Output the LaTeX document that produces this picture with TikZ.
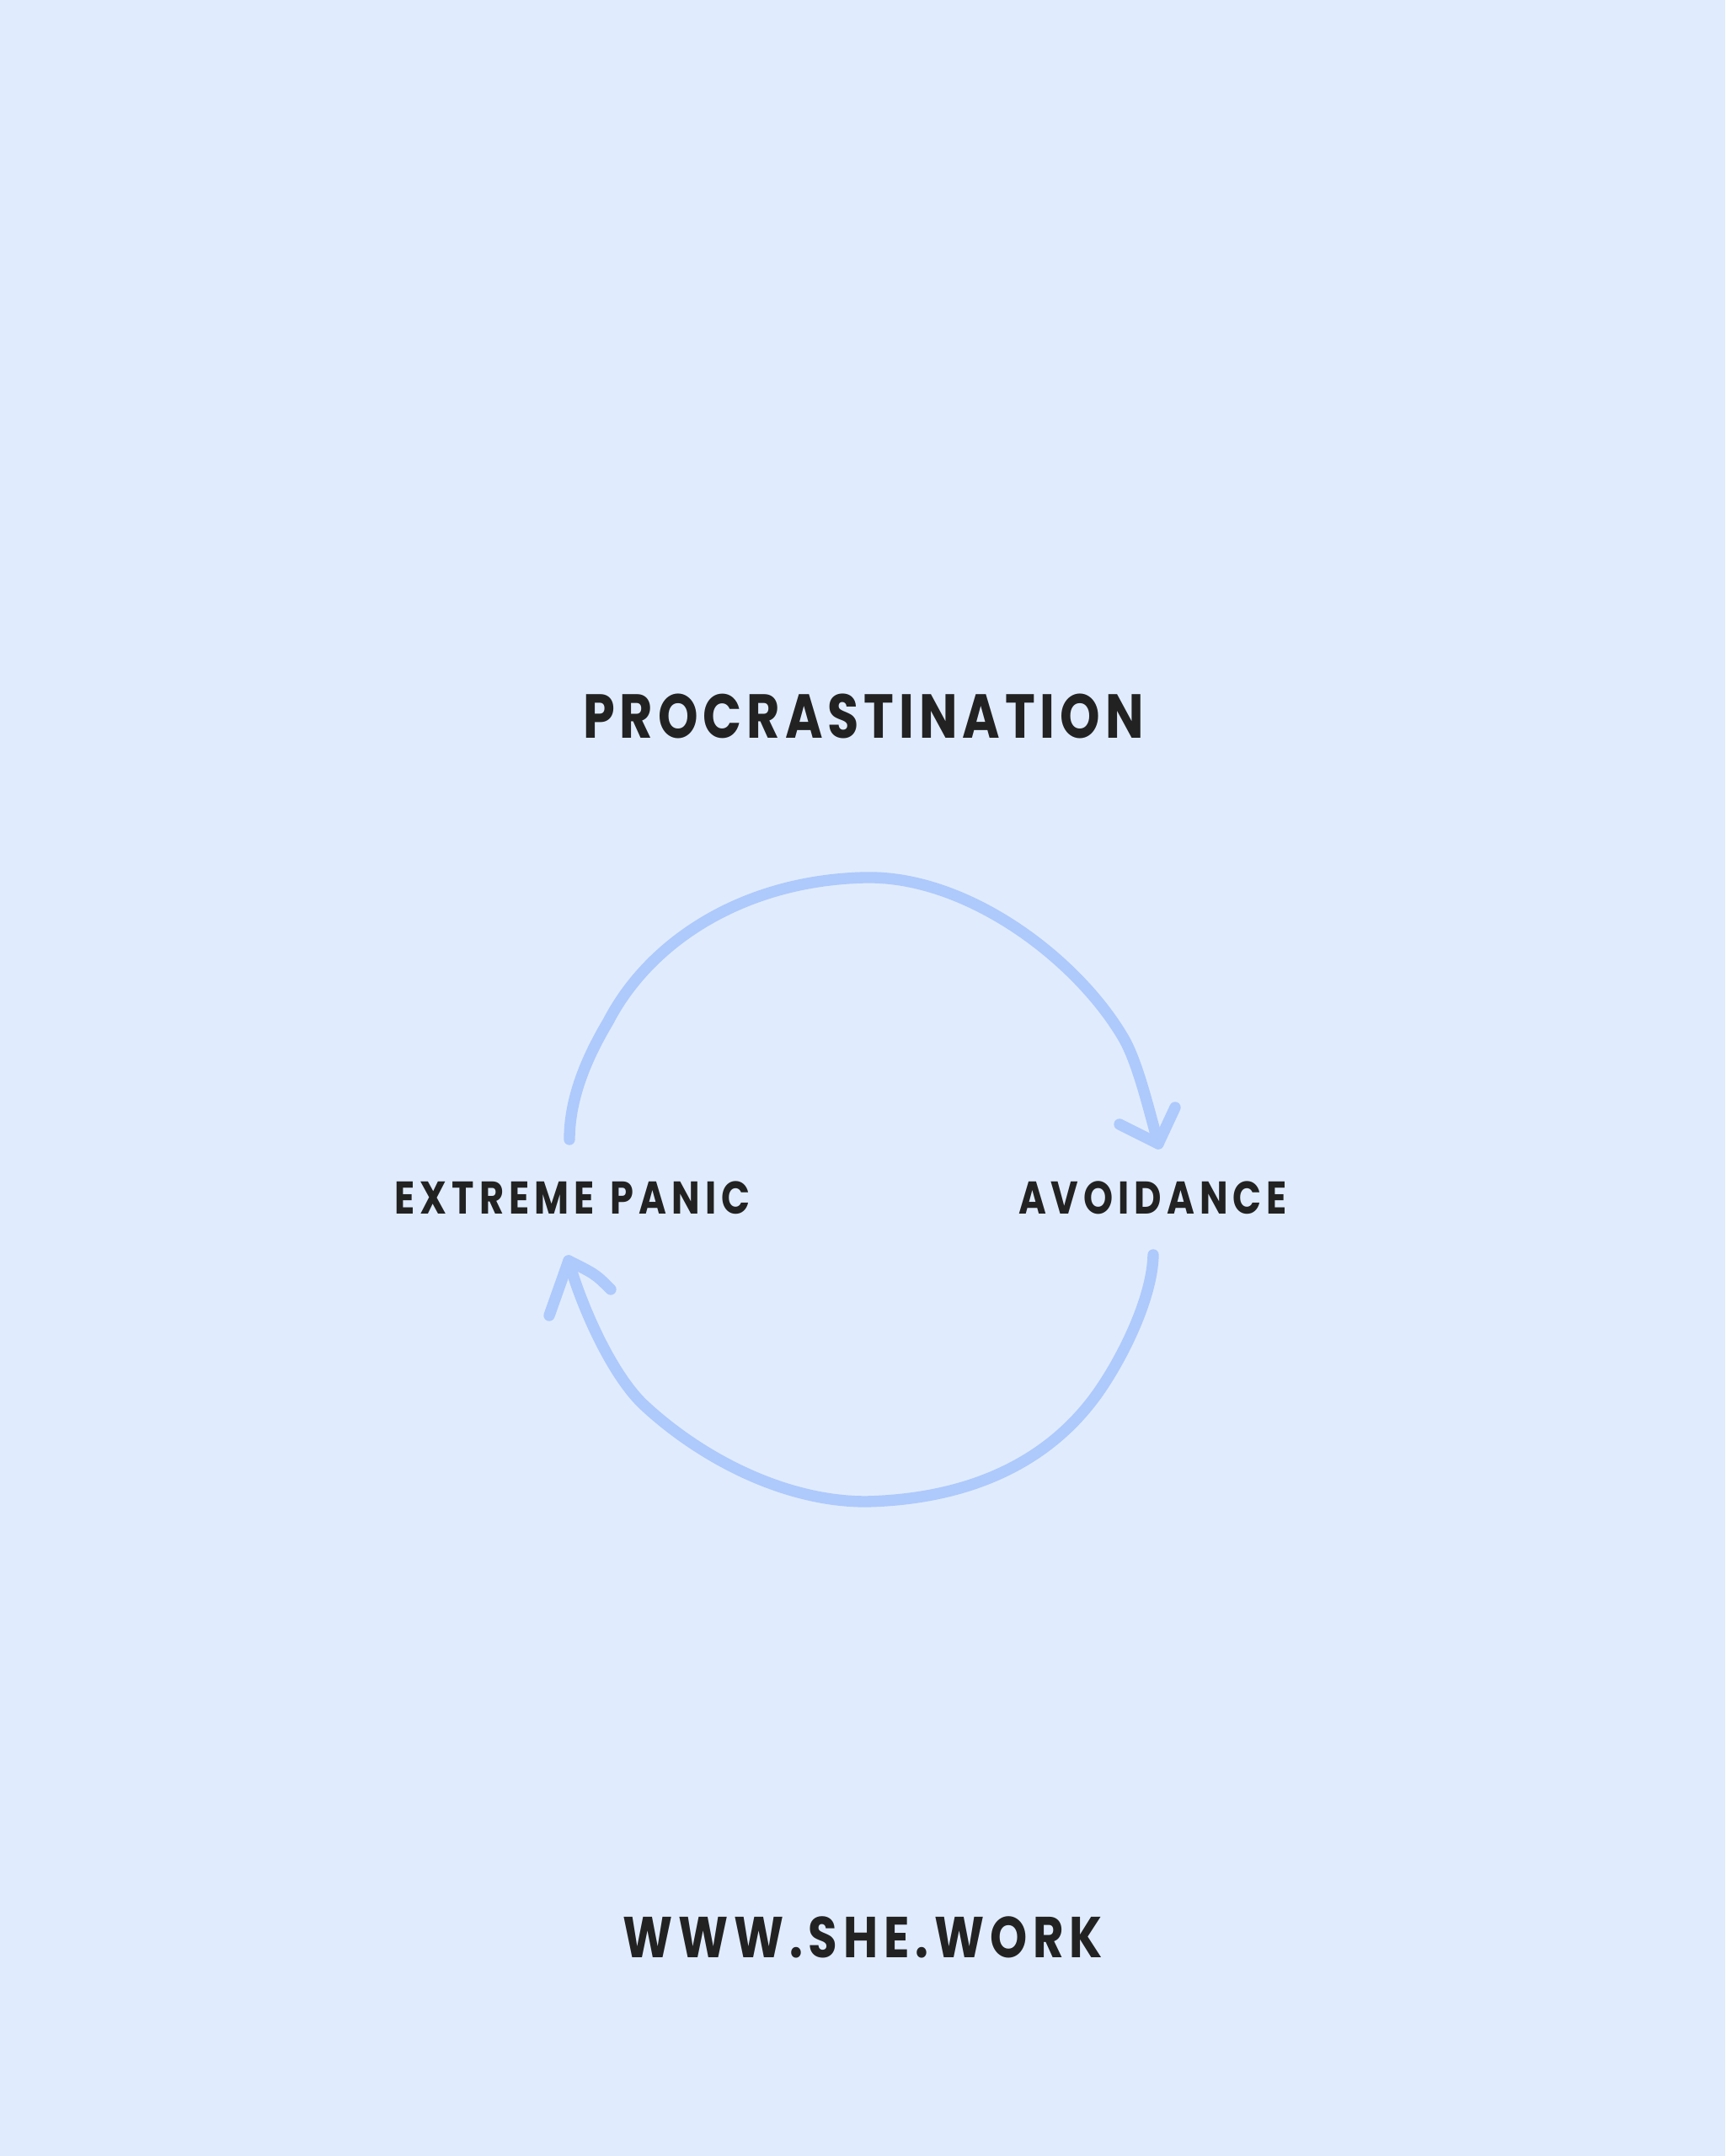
\documentclass[tikz,border=0pt]{standalone}
\usepackage{fontspec}
\setmainfont{Poppins}
\definecolor{bgc}{HTML}{E0ECFD}
\definecolor{arc}{HTML}{AEC9FC}
\definecolor{ink}{HTML}{222222}
\begin{document}
\begin{tikzpicture}[
  lbl/.style={text=ink, inner sep=0pt, anchor=base},
  arrowline/.style={draw=arc, line width=3.8pt, line cap=round, line join=round}
]
\fill[bgc] (0,0) rectangle (20.48,25.6);
\useasboundingbox (0,0) rectangle (20.48,25.6);

\node[lbl, font=\fontsize{21}{24}\selectfont\bfseries\addfontfeature{FakeStretch=0.82,LetterSpace=8}] (title) at (10.25,16.83) {PROCRASTINATION};
\node[lbl, font=\fontsize{15.5}{18}\selectfont\bfseries\addfontfeature{FakeStretch=0.82,LetterSpace=11}] (panic) at (6.795,11.18) {EXTREME\hspace{0.35em}PANIC};
\node[lbl, font=\fontsize{15.5}{18}\selectfont\bfseries\addfontfeature{FakeStretch=0.82,LetterSpace=11}] (avoid) at (13.685,11.18) {AVOIDANCE};
\node[lbl, font=\fontsize{19.5}{22}\selectfont\bfseries\addfontfeature{FakeStretch=0.82,LetterSpace=10}] (web) at (10.24,2.35) {WWW.SHE.WORK};

% top arrow: panic -> avoidance
\coordinate (t0) at (6.76,12.07);
\coordinate (t1) at (13.75,12.02);
\draw[arrowline] (t0) .. controls (6.76,12.60) and (7.00,13.10) .. (7.22,13.47)
  .. controls (7.70,14.40) and (8.80,15.15) .. (10.28,15.18)
  .. controls (11.50,15.20) and (12.80,14.20) .. (13.34,13.27)
  .. controls (13.50,12.99) and (13.62,12.50) .. (t1);
\draw[arrowline] (13.29,12.25) -- (t1) -- (13.95,12.45);

% bottom arrow: avoidance -> panic
\coordinate (b0) at (13.69,10.70);
\coordinate (b1) at (6.75,10.63);
\draw[arrowline] (b0) .. controls (13.68,10.20) and (13.34,9.50) .. (13.04,9.07)
  .. controls (12.50,8.30) and (11.60,7.80) .. (10.28,7.77)
  .. controls (9.30,7.77) and (8.30,8.30) .. (7.63,8.93)
  .. controls (7.25,9.30) and (6.90,10.10) .. (b1);
\draw[arrowline] (6.52,9.98) -- (b1) .. controls (7.07,10.47) .. (7.25,10.29);
\end{tikzpicture}
\end{document}
